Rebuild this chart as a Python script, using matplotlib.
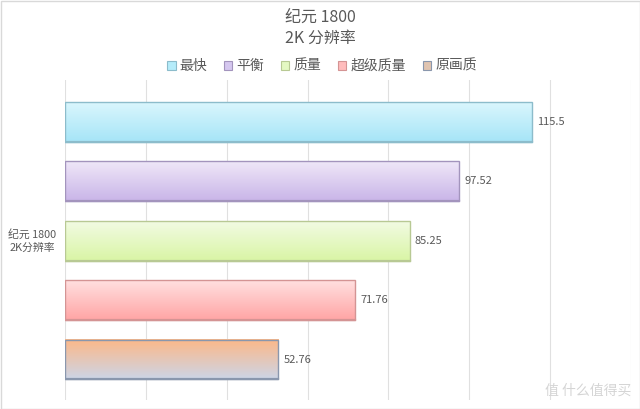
import matplotlib
matplotlib.use("Agg")
import matplotlib.pyplot as plt
import numpy as np
from matplotlib.patches import Rectangle
from matplotlib.colors import LinearSegmentedColormap

plt.rcParams['font.family'] = ['Noto Sans CJK SC', 'DejaVu Sans']

title_lines = ["纪元 1800", "2K 分辨率"]
category = "纪元 1800\n2K分辨率"
series = ["最快", "平衡", "质量", "超级质量", "原画质"]
values = [115.5, 97.52, 85.25, 71.76, 52.76]
value_labels = ["115.5", "97.52", "85.25", "71.76", "52.76"]
top_colors = ["#daf6fd", "#efe7f8", "#f2fbe3", "#ffe0e0", "#fdb888"]
bottom_colors = ["#a6e5f7", "#c9b5e8", "#d9f5a5", "#ffa5a5", "#cdd5e6"]
edge_colors = ["#8cbccb", "#a394bd", "#b8c994", "#d49494", "#8a97ad"]
legend_colors = ["#b5ecfa", "#d5c7ef", "#e4f8c2", "#ffbcbc", "#e0c4b0"]

fig = plt.figure(figsize=(6.4, 4.09), dpi=100)
fig.patch.set_facecolor("white")
ax = fig.add_axes([65/640, 9/409, 566/640, 320/409])

xmax = 140
ax.set_xlim(0, xmax)
ax.set_ylim(4.68, -0.7)
ax.set_xticks(np.arange(0, xmax + 1, 20))
ax.set_yticks([])
ax.tick_params(axis='x', length=0, labelbottom=False)
ax.grid(axis='x', color="#e0e0e0", linewidth=0.8)
ax.set_axisbelow(True)
for s in ax.spines.values():
    s.set_visible(False)

h = 0.67
for i, (v, tc, bc, ec) in enumerate(zip(values, top_colors, bottom_colors, edge_colors)):
    cmap = LinearSegmentedColormap.from_list("g%d" % i, [tc, bc])
    grad = np.linspace(0, 1, 100).reshape(-1, 1)
    ax.imshow(grad, cmap=cmap, aspect='auto',
              extent=[0, v, i + h/2, i - h/2], zorder=2, interpolation='bilinear')
    ax.barh(i, v, height=h, facecolor='none', edgecolor=ec, linewidth=1.0, zorder=3)
    ax.plot([0, v], [i + h/2, i + h/2], color=ec, linewidth=1.6, zorder=3)
    ax.text(v + 1.3, i, value_labels[i], va='center', ha='left', fontsize=8, color="#595959")

ax.set_xlim(0, xmax)
ax.set_ylim(4.68, -0.7)

fig.text(32/640, 1 - 241/409, category, ha='center', va='center', fontsize=7.8, color="#595959", linespacing=1.4)

fig.text(320/640, 1 - 17/409, title_lines[0], ha='center', va='center', fontsize=11.5, color="#595959")
fig.text(320/640, 1 - 38/409, title_lines[1], ha='center', va='center', fontsize=11.5, color="#595959")

handles = [Rectangle((0, 0), 1, 1, facecolor=c, edgecolor=e, linewidth=0.8)
           for c, e in zip(legend_colors, edge_colors)]
fig.legend(handles, series, loc='center', bbox_to_anchor=(322/640, 1 - 66/409), ncol=5,
           frameon=False, fontsize=10, handlelength=0.6, handleheight=0.6,
           handletextpad=0.3, columnspacing=1.2, labelcolor="#595959")

fig.text(588/640, 1 - 391/409, "值 什么值得买", ha='center', va='center', fontsize=10, color="#d5d5d5")

fig.add_artist(Rectangle((0.5/640, 0.5/409), 639/640, 408/409, transform=fig.transFigure,
                         facecolor='none', edgecolor="#d9d9d9", linewidth=1.0))

fig.savefig("out.png", dpi=100, facecolor="white")
